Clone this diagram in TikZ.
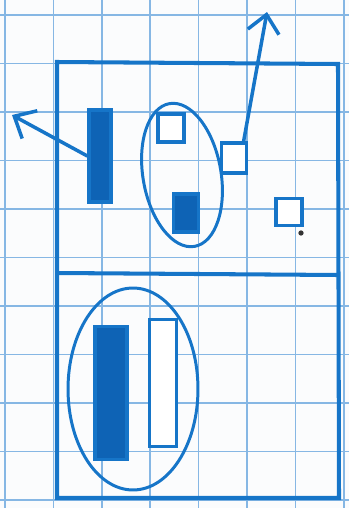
\documentclass[tikz,border=0pt]{standalone}
\usetikzlibrary{arrows.meta, shapes.geometric}
\definecolor{ink}{HTML}{1675C8}
\definecolor{inkfill}{HTML}{0E63B5}
\definecolor{gridcolor}{HTML}{86B7E4}
\definecolor{paper}{HTML}{FBFCFD}

\begin{document}
\begin{tikzpicture}[
    x=0.02cm, y=-0.02cm,
    gridline/.style={gridcolor, line width=0.9pt},
    frame/.style={ink, line width=2.3pt},
    bar/.style={
        rectangle, draw=ink, fill=inkfill, line width=1.9pt,
        inner sep=0pt, minimum width=#1,
    },
    box/.style={
        rectangle, draw=ink, fill=white, line width=1.9pt,
        inner sep=0pt, minimum width=#1,
    },
    oval/.style={ellipse, draw=ink, line width=1.7pt, inner sep=0pt},
    arr/.style={-{Straight Barb[length=10pt, width=18pt]}, ink, line width=2pt},
]
\useasboundingbox[fill=paper] (0,0) rectangle (349,508);

% ---------------------------------------------------------------- grid
\foreach \i in {0,...,7}{
    \draw[gridline] (5+\i*48.4, 0) -- (5+\i*48.4, 508);
}
\foreach \j in {0,...,10}{
    \draw[gridline] (0, 15+\j*48.5) -- (349, 15+\j*48.5);
}

% ---------------------------------------------------------------- frame
\draw[frame] (57,62) -- (338,64) -- (339,498) -- (57,498) -- cycle;
\draw[frame] (57,273) -- (339,275);

% ---------------------------------------------------------------- top half
\node[bar=0.44cm, minimum height=1.84cm] (bar) at (100,156) {};
\node[oval, minimum width=1.56cm, minimum height=2.9cm, rotate=10] (ovalA) at (182,175) {};
\node[box=0.52cm, minimum height=0.56cm] (sqA) at (171,128) {};
\node[bar=0.5cm, minimum height=0.76cm] (sqB) at (186,213) {};
\node[box=0.5cm, minimum height=0.6cm] (sqC) at (234,158) {};
\node[box=0.52cm, minimum height=0.54cm] (sqD) at (289,212) {};
\node[circle, fill=black!80, inner sep=0pt, minimum size=3pt] (dot) at (301,233) {};

\coordinate (tipL) at (12,115);
\coordinate (tipU) at (267,12);
\draw[arr] (bar.west) -- (tipL);
\draw[arr] (sqC.60) -- (tipU);

% ---------------------------------------------------------------- bottom half
\node[oval, minimum width=2.6cm, minimum height=4.04cm] (ovalB) at (133,389) {};
\node[bar=0.64cm, minimum height=2.66cm] (barB) at (111,393) {};
\node[box=0.54cm, minimum height=2.54cm] (barC) at (163,383) {};

\end{tikzpicture}
\end{document}
